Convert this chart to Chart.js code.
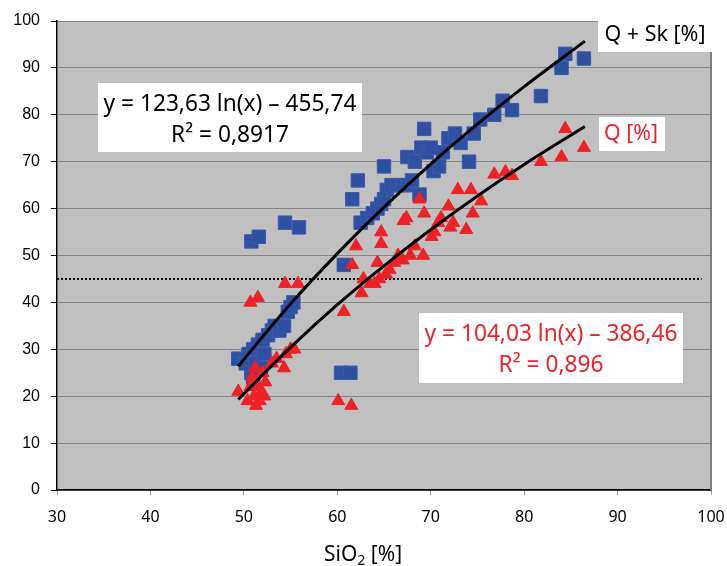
<!DOCTYPE html>
<html>
<head>
<meta charset="utf-8">
<script src="https://cdn.jsdelivr.net/npm/chart.js@4.4.1/dist/chart.umd.min.js"></script>
<style>
  body { margin: 0; background: #fff; }
  canvas { display: block; }
</style>
</head>
<body>
<canvas id="chart" width="727" height="566"></canvas>
<script>
// Q + Sk [%] (blue squares)
const qskX = [49.4, 50.2, 50.5, 50.8, 51.0, 51.2, 51.5, 51.0, 51.8, 52.0, 52.2, 52.6, 53.0, 53.3, 53.8, 54.3, 54.7, 55.0, 55.3,
  50.8, 51.6, 54.4, 55.9,
  60.4, 61.4, 60.7, 61.6, 62.2, 62.5, 63.2, 63.8, 64.3, 64.7, 65.0, 65.0, 65.3, 65.8, 66.4, 67.0, 67.6, 68.0,
  67.5, 68.3, 68.8, 69.3, 69.0, 69.6, 70.0, 70.3, 70.9, 71.3, 71.9, 72.6, 73.2, 74.1, 74.6, 75.3, 76.8, 77.7, 78.7, 81.8, 84.0, 84.4, 86.4];
const qskY = [28, 27, 29, 25, 30, 27, 31, 24, 26, 32, 29, 33, 34, 35, 34, 35, 38, 39, 40,
  53, 54, 57, 56,
  25, 25, 48, 62, 66, 57, 58, 59, 60, 61, 62, 69, 64, 65, 65, 65, 65, 66,
  71, 70, 63, 77, 73, 72, 73, 68, 69, 72, 75, 76, 74, 70, 76, 79, 80, 83, 81, 84, 90, 93, 92];

// Q [%] (red triangles)
const qX = [49.4, 50.4, 50.7, 50.9, 51.1, 51.3, 51.5, 51.7, 51.9, 52.0, 52.3, 51.2, 52.2, 50.7, 51.5, 53.0, 53.5, 54.3, 54.5, 55.0, 55.4, 54.4, 55.8,
  60.1, 61.5, 60.7, 61.6, 62.0, 62.6, 62.8, 63.5, 64.0, 64.5, 64.3, 64.7, 64.7, 65.2, 65.6, 66.1, 66.5, 67.0, 67.1, 67.4, 67.8, 68.3, 68.8,
  69.2, 69.3, 70.1, 70.4, 70.8, 71.1, 71.9, 72.1, 72.4, 72.9, 73.8, 74.3, 74.5, 75.4, 76.8, 78.0, 78.7, 81.8, 84.0, 84.4, 86.4];
const qY = [21, 19, 22, 24, 20, 18, 22, 19, 21, 25, 23, 26, 20, 40, 41, 27, 28, 26, 29, 30, 30, 44, 44,
  19, 18, 38, 48, 52, 42, 45, 44, 44, 45, 48.5, 52.5, 55, 46, 47, 48.5, 50, 49, 57.4, 58, 50, 52, 62,
  50, 59, 54, 55, 57, 58, 60.5, 56, 57, 64, 55.5, 64, 59, 61.6, 67.3, 67.8, 67, 70, 71, 77, 73];

// trend lines
const trendX = [49.4, 55, 60, 65, 70, 75, 80, 86.5];
const trendQsk = [26.4, 39.7, 50.4, 60.3, 69.5, 78.0, 86.0, 95.7];
const trendQ = [19.3, 30.4, 39.5, 47.8, 55.5, 62.7, 69.4, 77.5];

// dotted reference line
const refX = [30, 99];
const refY = [45, 45];

const toPts = (xs, ys) => xs.map((x, i) => ({ x: x, y: ys[i] }));

function fitFont(ctx, text, targetW, family) {
  ctx.font = '20px ' + family;
  const w = ctx.measureText(text).width;
  const size = 20 * targetW / w;
  ctx.font = size.toFixed(2) + 'px ' + family;
  return size;
}

function drawBox(ctx, x1, y1, x2, y2, lines, color, targetW) {
  ctx.save();
  ctx.fillStyle = '#fff';
  ctx.fillRect(x1, y1, x2 - x1, y2 - y1);
  fitFont(ctx, lines[0].text, targetW, '"Noto Sans", sans-serif');
  ctx.fillStyle = color;
  ctx.textAlign = 'center';
  ctx.textBaseline = 'middle';
  lines.forEach(l => ctx.fillText(l.text, l.x, l.y));
  ctx.restore();
}

const decor = {
  id: 'decor',
  beforeDraw(chart) {
    const { ctx, chartArea: a } = chart;
    ctx.save();
    ctx.fillStyle = '#c0c0c0';
    ctx.fillRect(a.left, a.top, a.right - a.left, a.bottom - a.top);
    ctx.restore();
  },
  afterDraw(chart) {
    const { ctx, chartArea: a } = chart;
    ctx.save();
    ctx.strokeStyle = '#808080';
    ctx.lineWidth = 2;
    ctx.beginPath();
    ctx.moveTo(a.right, a.top);
    ctx.lineTo(a.right, a.bottom);
    ctx.stroke();

    // axis title with a real subscript
    ctx.fillStyle = '#000';
    ctx.textBaseline = 'alphabetic';
    ctx.font = '21px "Noto Sans", sans-serif';
    const w1 = ctx.measureText('SiO').width;
    ctx.font = '14px "Noto Sans", sans-serif';
    const w2 = ctx.measureText('2').width;
    ctx.font = '21px "Noto Sans", sans-serif';
    const w3 = ctx.measureText(' [%]').width;
    let x = 363 - (w1 + w2 + w3) / 2;
    ctx.fillText('SiO', x, 561);
    ctx.font = '14px "Noto Sans", sans-serif';
    ctx.fillText('2', x + w1, 565);
    ctx.font = '21px "Noto Sans", sans-serif';
    ctx.fillText(' [%]', x + w1 + w2, 561);
    ctx.restore();

    drawBox(ctx, 98, 83, 362, 152, [
      { text: 'y = 123,63 ln(x) \u2013 455,74', x: 230, y: 105 },
      { text: 'R\u00b2 = 0,8917', x: 230, y: 136 }
    ], '#000', 253);
    drawBox(ctx, 419, 313, 683, 383, [
      { text: 'y = 104,03 ln(x) \u2013 386,46', x: 551, y: 335 },
      { text: 'R\u00b2 = 0,896', x: 551, y: 366 }
    ], '#ee2127', 253);
    drawBox(ctx, 598, 20, 712, 52, [
      { text: 'Q + Sk [%]', x: 655, y: 35 }
    ], '#000', 101);
    drawBox(ctx, 599, 117, 665, 151, [
      { text: 'Q [%]', x: 631, y: 134 }
    ], '#ee2127', 54);
  }
};

const ctx = document.getElementById('chart');

new Chart(ctx, {
  type: 'scatter',
  data: {
    datasets: [
      {
        type: 'line',
        data: toPts(trendX, trendQsk),
        borderColor: '#000',
        borderWidth: 3,
        pointRadius: 0,
        cubicInterpolationMode: 'monotone',
        order: 0
      },
      {
        type: 'line',
        data: toPts(trendX, trendQ),
        borderColor: '#000',
        borderWidth: 3,
        pointRadius: 0,
        cubicInterpolationMode: 'monotone',
        order: 0
      },
      {
        label: 'Q [%]',
        data: toPts(qX, qY),
        pointStyle: 'triangle',
        pointRadius: 7.5,
        backgroundColor: '#ee2127',
        borderColor: '#ee2127',
        borderWidth: 1,
        order: 1
      },
      {
        label: 'Q + Sk [%]',
        data: toPts(qskX, qskY),
        pointStyle: 'rect',
        pointRadius: 9.5,
        backgroundColor: '#2f4fa0',
        borderColor: '#3a5aac',
        borderWidth: 1,
        order: 2
      },
      {
        type: 'line',
        data: toPts(refX, refY),
        borderColor: '#000',
        borderWidth: 2,
        borderDash: [2, 2],
        pointRadius: 0,
        order: 3
      }
    ]
  },
  options: {
    responsive: false,
    animation: false,
    layout: { padding: { top: 21, right: 16, left: 0, bottom: 0 } },
    plugins: {
      legend: { display: false },
      tooltip: { enabled: false }
    },
    scales: {
      x: {
        type: 'linear',
        min: 30,
        max: 100,
        afterFit: s => { s.height = 76; s.paddingLeft = 0; s.paddingRight = 0; },
        ticks: {
          stepSize: 10,
          color: '#000',
          padding: 13,
          font: { family: '"Noto Sans", sans-serif', size: 16 }
        },
        grid: { drawOnChartArea: false, tickLength: 5, tickColor: '#a0a0a0' },
        border: { color: '#000', width: 1.5 }
      },
      y: {
        min: 0,
        max: 100,
        afterFit: s => { s.width = 57; },
        ticks: {
          stepSize: 10,
          color: '#000',
          padding: 11,
          font: { family: '"Liberation Sans", Arial, sans-serif', size: 16 }
        },
        grid: { color: '#858585', lineWidth: 1, tickLength: 6, tickColor: '#000' },
        border: { color: '#000', width: 1.5 }
      }
    }
  },
  plugins: [decor]
});
</script>
</body>
</html>
